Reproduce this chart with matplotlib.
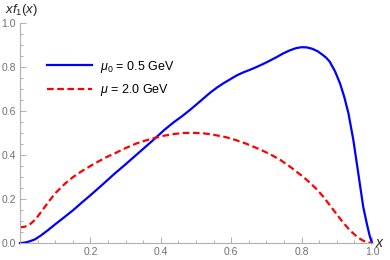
import numpy as np
import matplotlib
matplotlib.use("Agg")
import matplotlib.pyplot as plt
from matplotlib.ticker import MultipleLocator, FormatStrFormatter

plt.rcParams['font.family'] = ['Liberation Sans', 'DejaVu Sans']
plt.rcParams['mathtext.fontset'] = 'custom'
plt.rcParams['mathtext.rm'] = 'Liberation Sans'
plt.rcParams['mathtext.it'] = 'Liberation Sans:italic'

# values
x_mu0 = [0.0, 0.01, 0.02, 0.03, 0.043, 0.06, 0.08, 0.1, 0.128, 0.15, 0.175, 0.2, 0.222,
         0.25, 0.27, 0.298, 0.33, 0.36, 0.384, 0.41, 0.436, 0.46, 0.483, 0.511, 0.54,
         0.56, 0.578, 0.6, 0.616, 0.635, 0.653, 0.672, 0.691, 0.71, 0.729, 0.748,
         0.767, 0.785, 0.80, 0.815, 0.83, 0.845, 0.86, 0.87, 0.88, 0.895, 0.909,
         0.921, 0.933, 0.947, 0.961, 0.975, 0.985, 0.993, 1.0]
y_mu0 = [0.0, 0.001, 0.004, 0.009, 0.017, 0.035, 0.059, 0.085, 0.12, 0.148, 0.183, 0.217, 0.248,
         0.288, 0.317, 0.355, 0.40, 0.442, 0.476, 0.514, 0.548, 0.576, 0.605, 0.643, 0.683,
         0.707, 0.726, 0.747, 0.762, 0.776, 0.787, 0.800, 0.814, 0.829, 0.845, 0.862,
         0.876, 0.886, 0.890, 0.889, 0.883, 0.872, 0.855, 0.842, 0.824, 0.78, 0.726,
         0.665, 0.59, 0.468, 0.317, 0.165, 0.09, 0.035, 0.0]

x_mu = [0.0, 0.01, 0.02, 0.03, 0.04, 0.05, 0.065, 0.08, 0.1, 0.128, 0.15, 0.175, 0.2,
        0.222, 0.245, 0.27, 0.298, 0.33, 0.357, 0.384, 0.41, 0.44, 0.465, 0.488, 0.52,
        0.55, 0.585, 0.615, 0.64, 0.66, 0.685, 0.71, 0.74, 0.767, 0.785, 0.805, 0.825,
        0.843, 0.862, 0.88, 0.9, 0.918, 0.937, 0.957, 0.97, 0.98, 0.99, 1.0]
y_mu = [0.072, 0.073, 0.077, 0.087, 0.102, 0.12, 0.152, 0.185, 0.226, 0.27, 0.299, 0.326, 0.35,
        0.37, 0.39, 0.408, 0.43, 0.452, 0.466, 0.478, 0.488, 0.496, 0.5, 0.501, 0.499,
        0.492, 0.481, 0.467, 0.453, 0.44, 0.423, 0.404, 0.377, 0.347, 0.325, 0.300, 0.272,
        0.244, 0.21, 0.172, 0.13, 0.093, 0.058, 0.029, 0.015, 0.007, 0.002, 0.0]

fig = plt.figure(figsize=(3.9, 2.6), dpi=100)
ax = fig.add_axes([20 / 390, 17 / 260, 352 / 390, 220 / 260])

ax.plot(x_mu0, y_mu0, color='#0000ff', lw=1.6, label=r'$\mu_0$ = 0.5 GeV', clip_on=False)
ax.plot(x_mu, y_mu, color='#ff0000', lw=1.6, linestyle=(0, (3, 1.6)),
        label=r'$\mu$ = 2.0 GeV', clip_on=False)

ax.set_xlim(0, 1.0)
ax.set_ylim(0, 1.0)

for s in ['top', 'right']:
    ax.spines[s].set_visible(False)
for s in ['left', 'bottom']:
    ax.spines[s].set_color('#b0b0b0')
    ax.spines[s].set_linewidth(0.8)

ax.xaxis.set_major_locator(MultipleLocator(0.2))
ax.xaxis.set_minor_locator(MultipleLocator(0.05))
ax.yaxis.set_major_locator(MultipleLocator(0.2))
ax.yaxis.set_minor_locator(MultipleLocator(0.05))
ax.xaxis.set_major_formatter(FormatStrFormatter('%.1f'))
ax.yaxis.set_major_formatter(FormatStrFormatter('%.1f'))
ax.tick_params(which='both', direction='in', color='#b0b0b0', labelcolor='#707070',
               labelsize=7.5, width=0.7)
ax.tick_params(which='major', length=4, pad=3)
ax.tick_params(which='minor', length=2)
ax.set_xticks([0.2, 0.4, 0.6, 0.8, 1.0])

fig.text(5 / 390, 1 - 13 / 260, r'$xf_1(x)$', fontsize=9.5, color='#222222',
         ha='left', va='baseline')
ax.text(1.008, 0.0, r'$x$', transform=ax.transAxes, fontsize=10, color='#222222',
        ha='left', va='center')

ax.legend(loc='upper left', bbox_to_anchor=(0.062, 0.86), frameon=False, fontsize=9,
          handlelength=3.6, handletextpad=0.65, labelspacing=0.6, borderaxespad=0)

fig.savefig('out.png', dpi=100)
